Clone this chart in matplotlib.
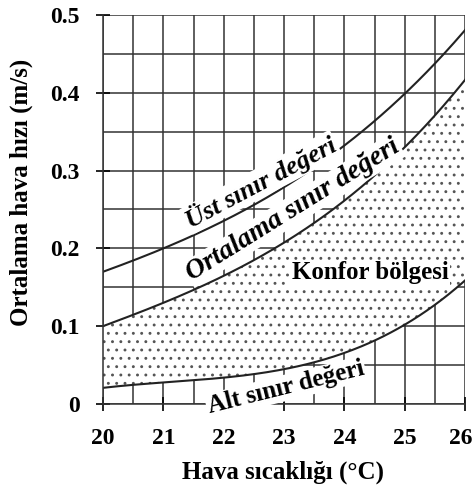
import numpy as np
import matplotlib
matplotlib.use("Agg")
import matplotlib.pyplot as plt
import matplotlib.transforms as mtransforms

# values
temps = [20, 21, 22, 23, 24, 25, 26]
ust = [0.17, 0.20, 0.235, 0.28, 0.33, 0.40, 0.48]
ortalama = [0.10, 0.13, 0.165, 0.21, 0.255, 0.335, 0.415]
alt = [0.022, 0.025, 0.035, 0.046, 0.067, 0.099, 0.16]

xticks = [20, 21, 22, 23, 24, 25, 26]
yticks = [0, 0.1, 0.2, 0.3, 0.4, 0.5]
ytick_labels = ["0", "0.1", "0.2", "0.3", "0.4", "0.5"]

plt.rcParams['font.family'] = ['Liberation Serif', 'DejaVu Serif']
plt.rcParams['hatch.linewidth'] = 0.9

fig = plt.figure(figsize=(4.75, 4.94), dpi=100)
ax = fig.add_axes([0.217, 0.182, 0.762, 0.788])

# smooth the curves through the read points
xs = np.linspace(20, 26, 200)
def smooth(vals):
    c = np.polyfit(temps, vals, 3)
    return np.polyval(c, xs)

u = smooth(ust)
m = smooth(ortalama)
a = smooth(alt)

ax.fill_between(xs, a, m, facecolor='white', edgecolor='#555555', hatch='..', linewidth=0)
ax.plot(xs, u, color='#222222', lw=1.5)
ax.plot(xs, m, color='#222222', lw=1.5)
ax.plot(xs, a, color='#222222', lw=1.5)

ax.set_xlim(20, 26)
ax.set_ylim(0, 0.5)
ax.set_xticks(np.arange(20, 26.01, 0.5), minor=True)
ax.set_yticks(np.arange(0, 0.501, 0.05), minor=True)
ax.grid(which='both', color='#333333', lw=1.1)
ax.set_axisbelow(True)
ax.set_xticks(xticks)
ax.set_yticks(yticks)
ax.set_yticklabels(ytick_labels)
ax.tick_params(which='major', direction='inout', length=10, width=1.2, labelsize=17)
ax.tick_params(axis='x', pad=12)
ax.tick_params(axis='y', pad=12)
ax.tick_params(which='minor', length=0)
for lab in ax.get_xticklabels() + ax.get_yticklabels():
    lab.set_fontweight('bold')
# keep the last x label inside the figure
last = ax.get_xticklabels()[-1]
last.set_transform(last.get_transform() + mtransforms.ScaledTranslation(-4/100, 0, fig.dpi_scale_trans))
for s in ax.spines.values():
    s.set_color('#333333')
    s.set_linewidth(1.1)
ax.spines['top'].set_visible(False)
ax.spines['right'].set_visible(False)

ax.set_xlabel('Hava sıcaklığı (°C)', fontsize=18, fontweight='bold')
ax.set_ylabel('Ortalama hava hızı (m/s)', fontsize=18, fontweight='bold')
ax.xaxis.set_label_coords(0.496, -0.145)
ax.yaxis.set_label_coords(-0.193, 0.545)

box = dict(facecolor='white', edgecolor='none', pad=1.0)
ax.text(22.62, 0.285, 'Üst sınır değeri', rotation=28, fontsize=19, fontweight='bold',
        style='italic', ha='center', va='center', bbox=box)
ax.text(23.15, 0.249, 'Ortalama sınır değeri', rotation=32, fontsize=20, fontweight='bold',
        style='italic', ha='center', va='center', bbox=box)
ax.text(24.43, 0.169, 'Konfor bölgesi', fontsize=18, fontweight='bold',
        ha='center', va='center', bbox=box)
ax.text(23.03, 0.021, 'Alt sınır değeri', rotation=14, fontsize=18, fontweight='bold',
        ha='center', va='center', bbox=box)

fig.savefig('out.png', dpi=100)
